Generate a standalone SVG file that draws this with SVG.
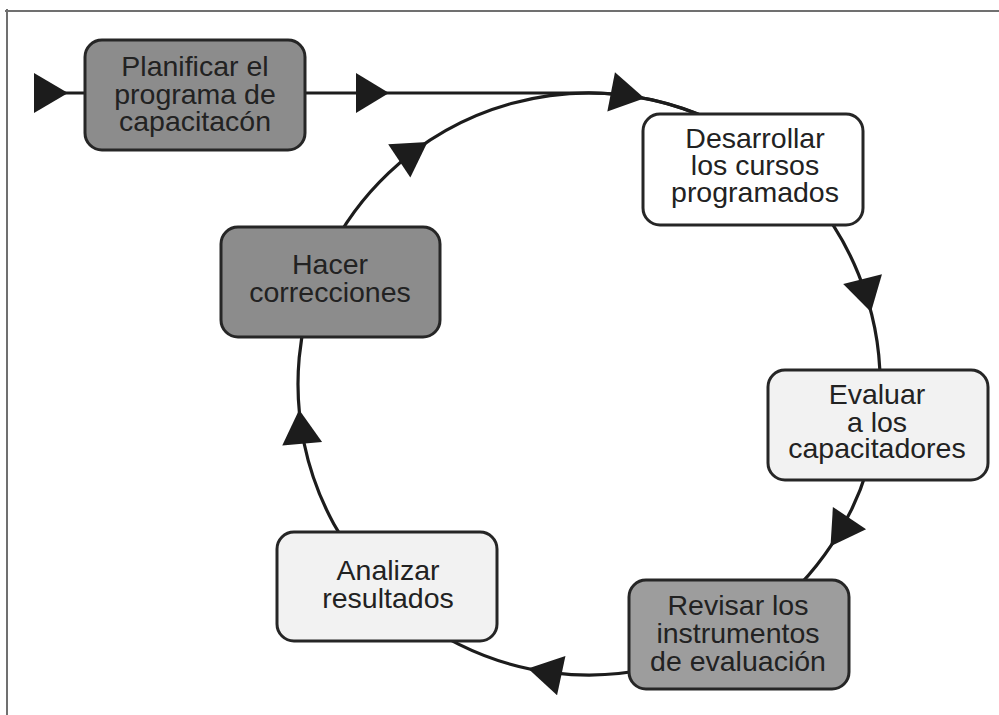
<svg xmlns="http://www.w3.org/2000/svg" xmlns:xlink="http://www.w3.org/1999/xlink" width="999" height="715" viewBox="0 0 999 715">
<style>
.frame{stroke:#707070;stroke-width:2;fill:none}
.edge{fill:none;stroke:#1c1c1c;stroke-width:3.2}
.head{fill:#1c1c1c}
.box{stroke:#262626;stroke-width:3}
.dark{fill:#8c8c8c}
.mid{fill:#9d9d9d}
.light{fill:#f2f2f2}
.white{fill:#ffffff}
.lbl{font-family:"Liberation Sans",Arial,sans-serif;font-size:28.5px;fill:#222;text-anchor:middle}
</style>
<defs>
<polygon id="ah" points="555,73 555,113 589,93"/>
</defs>
<rect x="0" y="0" width="999" height="715" fill="#fff"/>
<line class="frame" x1="5" y1="11" x2="999" y2="11"/>
<line class="frame" x1="7" y1="9" x2="7" y2="715"/>

<g id="connectors">
<line class="edge" x1="40" y1="93" x2="86" y2="93"/>
<polygon class="head" points="34,73 34,113 68,93"/>
<path class="edge" d="M305,93 H589 A291,291 0 0 1 766.2,153.1"/>
<polygon class="head" points="356,73 356,113 389,93"/>
<path class="edge" d="M766.2,153.1 A291,291 0 0 1 877.1,425"/>
<path class="edge" d="M877.1,425 A291,291 0 0 1 738.9,633.4"/>
<path class="edge" d="M738.9,633.4 A291,291 0 0 1 383.2,589.8"/>
<path class="edge" d="M383.2,589.8 A291,291 0 0 1 318.3,277.3"/>
<path class="edge" d="M318.3,277.3 A291,291 0 0 1 766.2,153.1"/>
<use href="#ah" class="head" transform="rotate(11 589 384)"/>
<use href="#ah" class="head" transform="rotate(75.7 589 384)"/>
<use href="#ah" class="head" transform="rotate(123.9 589 384)"/>
<use href="#ah" class="head" transform="rotate(192.1 589 384)"/>
<use href="#ah" class="head" transform="rotate(264.9 589 384)"/>
<use href="#ah" class="head" transform="rotate(326.3 589 384)"/>
</g>

<g id="planificar">
<rect class="box dark" x="85" y="40" width="220" height="110" rx="17"/>
<text class="lbl"><tspan x="195" y="76">Planificar el</tspan><tspan x="195" y="104">programa de</tspan><tspan x="195" y="131">capacitacón</tspan></text>
</g>

<g id="desarrollar">
<rect class="box white" x="643" y="114" width="220" height="111" rx="17"/>
<text class="lbl"><tspan x="755" y="148">Desarrollar</tspan><tspan x="755" y="175">los cursos</tspan><tspan x="755" y="202">programados</tspan></text>
</g>

<g id="evaluar">
<rect class="box light" x="768" y="370" width="220" height="110" rx="17"/>
<text class="lbl"><tspan x="877" y="404">Evaluar</tspan><tspan x="877" y="432">a los</tspan><tspan x="877" y="458">capacitadores</tspan></text>
</g>

<g id="revisar">
<rect class="box mid" x="629" y="580" width="220" height="109" rx="17"/>
<text class="lbl"><tspan x="738" y="615">Revisar los</tspan><tspan x="738" y="643">instrumentos</tspan><tspan x="738" y="671">de evaluación</tspan></text>
</g>

<g id="analizar">
<rect class="box light" x="277" y="532" width="220" height="109" rx="17"/>
<text class="lbl"><tspan x="388" y="580">Analizar</tspan><tspan x="388" y="608">resultados</tspan></text>
</g>

<g id="hacer">
<rect class="box dark" x="221" y="227" width="219" height="110" rx="17"/>
<text class="lbl"><tspan x="330" y="274">Hacer</tspan><tspan x="330" y="302">correcciones</tspan></text>
</g>
</svg>
